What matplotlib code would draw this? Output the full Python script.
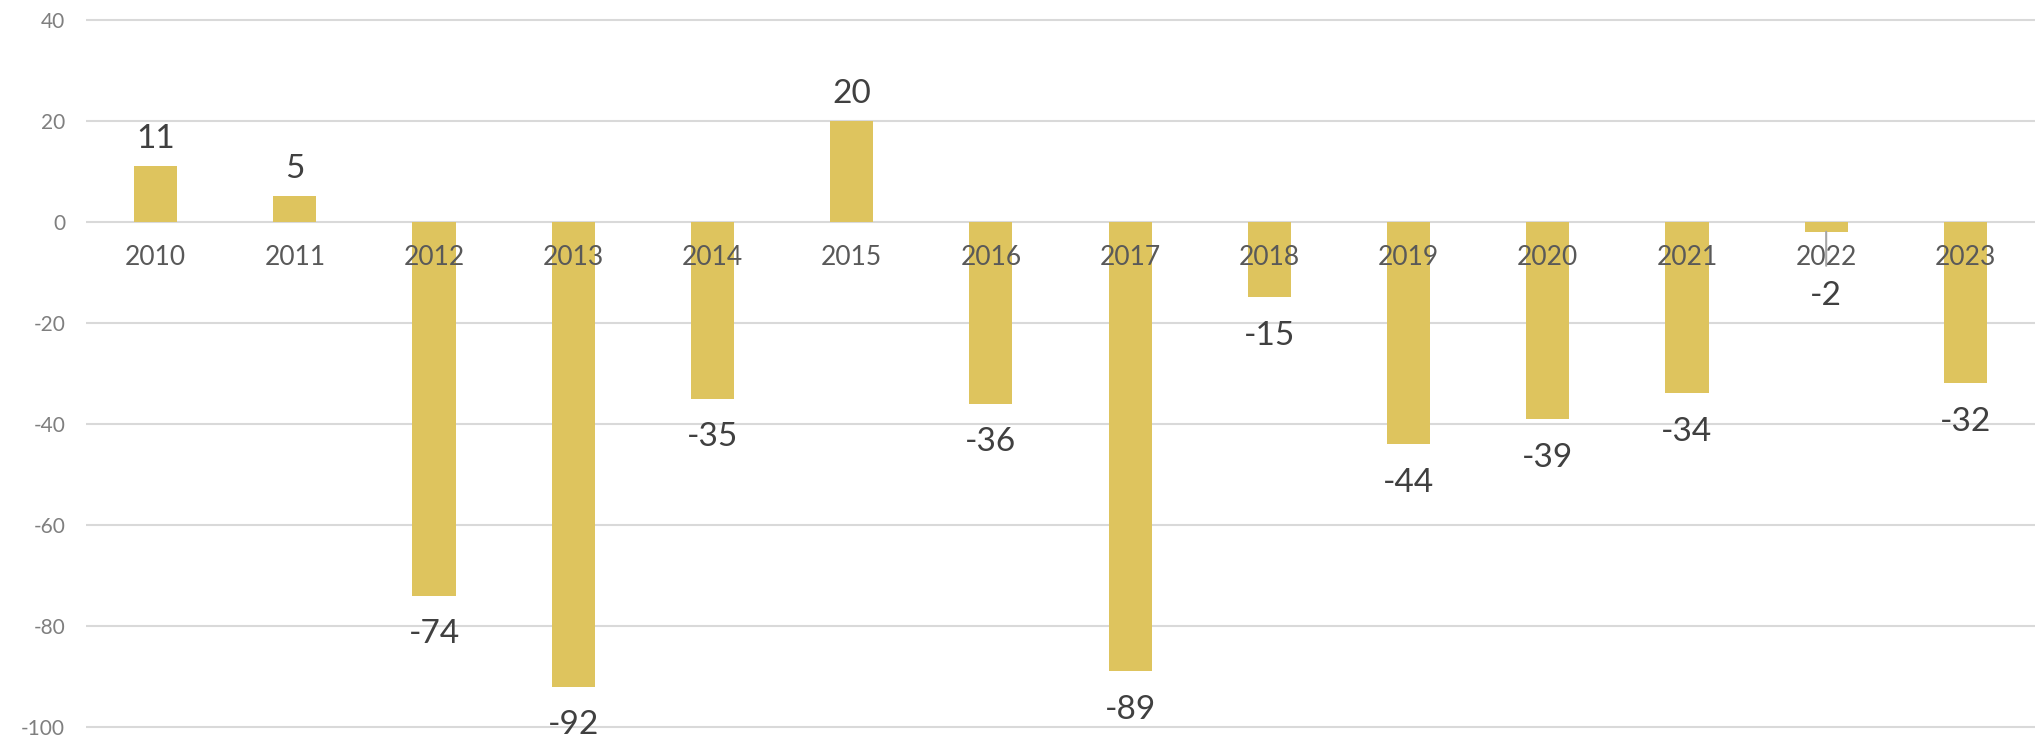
import numpy as np
import matplotlib.pyplot as plt

years = ["2010", "2011", "2012", "2013", "2014", "2015", "2016",
         "2017", "2018", "2019", "2020", "2021", "2022", "2023"]
values = [11, 5, -74, -92, -35, 20, -36, -89, -15, -44, -39, -34, -2, -32]
y_ticks = [-100, -80, -60, -40, -20, 0, 20, 40]

# labels that would sit on the year text are pushed down (points) with a leader line
pushed_labels = {"2022": 18.5}

bar_color = "#DEC45E"
grid_color = "#D9D9D9"

plt.rcParams['font.family'] = ['Lato', 'DejaVu Sans']

fig = plt.figure(figsize=(20.35, 7.43), dpi=100)
ax = fig.add_axes([86 / 2035, 11 / 743, (2035 - 86) / 2035, (732 - 14.5) / 743])

x = np.arange(len(years))
ax.bar(x, values, width=0.31, color=bar_color, zorder=2)

ax.set_xlim(-0.5, len(years) - 0.5)
ax.set_ylim(-101, 41)
ax.set_yticks(y_ticks)
ax.set_yticklabels([str(t) for t in y_ticks])
ax.set_xticks([])
ax.tick_params(axis="y", length=0, pad=15, labelsize=15, labelcolor="#7F7F7F")
for t in y_ticks:
    ax.axhline(t, color=grid_color, linewidth=1.5, zorder=0)
for s in ax.spines.values():
    s.set_visible(False)

# year labels just under the zero line, drawn over the bars
for i, yr in enumerate(years):
    ax.annotate(yr, (i, 0), xytext=(0, -17), textcoords="offset points",
                ha="center", va="top", fontsize=19, color="#595959", zorder=4)

for i, (yr, v) in enumerate(zip(years, values)):
    if v >= 0:
        dy = 13
    else:
        dy = -34.5
        if yr in pushed_labels:
            dy -= pushed_labels[yr]
            ax.annotate("", xy=(i, v), xytext=(0, -24.5), textcoords="offset points",
                        arrowprops=dict(arrowstyle="-", color="#A6A6A6", lw=1.5,
                                        shrinkA=0, shrinkB=0), zorder=3)
    ax.annotate(str(v), (i, v), xytext=(0, dy), textcoords="offset points",
                ha="center", va="baseline", fontsize=24, color="#404040", zorder=4)

fig.savefig("out.png", dpi=100)
